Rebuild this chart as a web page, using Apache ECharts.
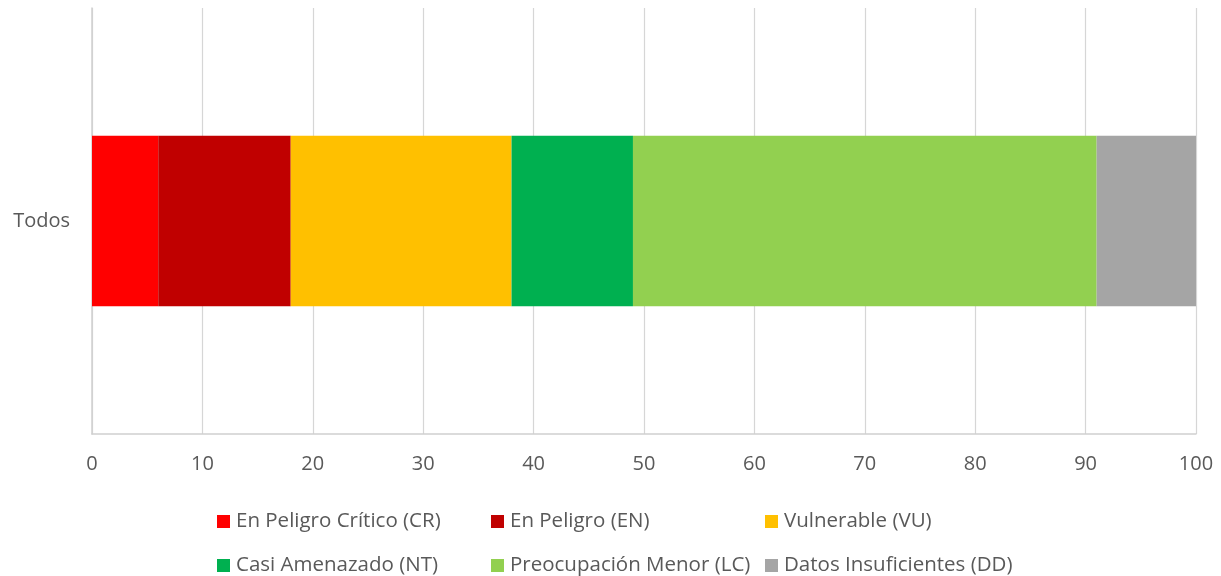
<!DOCTYPE html>
<html><head><meta charset="utf-8">
<script src="https://cdn.jsdelivr.net/npm/echarts@6/dist/echarts.min.js"></script>
<style>html,body{margin:0;padding:0;background:#fff}#c{width:1221px;height:576px}</style>
</head><body><div id="c"></div>
<script>
const categories = ['Todos'];
const seriesNames = ['En Peligro Crítico (CR)','En Peligro (EN)','Vulnerable (VU)','Casi Amenazado (NT)','Preocupación Menor (LC)','Datos Insuficientes (DD)'];
const cr = [6];
const en = [12];
const vu = [20];
const nt = [11];
const lc = [42];
const dd = [9];
const colors = ['#FF0000','#C00000','#FFC000','#00B050','#92D050','#A5A5A5'];
const values = [cr,en,vu,nt,lc,dd];
const xTicks = {min:0,max:100,interval:10};

const font = 'Open Sans, Liberation Sans, sans-serif';
const legendPos = [[212,506],[486,506],[760,506],[212,550],[486,550],[760,550]];
const chart = echarts.init(document.getElementById('c'));
chart.setOption({
  animation:false,
  grid:{left:92,right:25,top:8,bottom:142,containLabel:false},
  xAxis:{type:'value',min:xTicks.min,max:xTicks.max,interval:xTicks.interval,
    axisLine:{show:true,lineStyle:{color:'#d0d0d0',width:1.5}},
    axisTick:{show:false},
    splitLine:{show:true,lineStyle:{color:'#d6d6d6',width:1.2}},
    axisLabel:{color:'#595959',fontSize:20,fontFamily:font,margin:20}},
  yAxis:{type:'category',data:categories,
    axisLine:{show:true,lineStyle:{color:'#d0d0d0',width:1.5}},
    axisTick:{show:false},
    axisLabel:{color:'#595959',fontSize:20,fontFamily:font,margin:22}},
  legend: seriesNames.map((n,i)=>({data:[n],left:legendPos[i][0],top:legendPos[i][1],
    icon:'rect',itemWidth:13,itemHeight:13,itemGap:0,
    textStyle:{color:'#595959',fontSize:20.5,fontFamily:font,padding:[0,0,0,1]}})),
  series: seriesNames.map((n,i)=>({name:n,type:'bar',stack:'a',data:values[i],
    barWidth:'40%',itemStyle:{color:colors[i]}}))
});
</script></body></html>
